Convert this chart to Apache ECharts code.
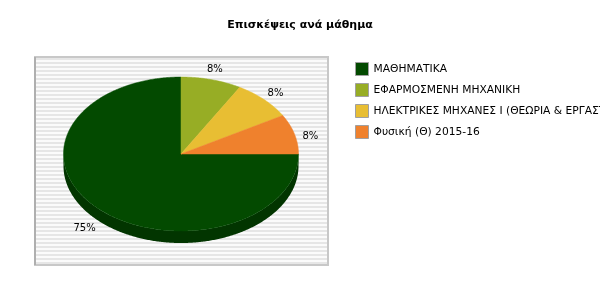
<!DOCTYPE html>
<html><head><meta charset="utf-8">
<script src="https://cdn.jsdelivr.net/npm/echarts@6/dist/echarts.min.js"></script>
<style>html,body{margin:0;padding:0;background:#fff}#c{width:600px;height:300px}</style>
</head><body><div id="c"></div>
<script>
const categories = ['ΜΑΘΗΜΑΤΙΚΑ', 'ΕΦΑΡΜΟΣΜΕΝΗ ΜΗΧΑΝΙΚΗ', 'ΗΛΕΚΤΡΙΚΕΣ ΜΗΧΑΝΕΣ Ι (ΘΕΩΡΙΑ & ΕΡΓΑΣΤΗΡΙΟ)', 'Φυσική (Θ) 2015-16'];
const visits = [9, 1, 1, 1];
const colors = ['#034A00', '#97AD25', '#E8BE33', '#EF812D'];
const sideColors = ['#023500', '#6C7C1A', '#A88A25', '#AD5E21'];
const titleText = 'Επισκέψεις ανά μάθημα';

const total = visits.reduce((a, b) => a + b, 0);
const PIE = {cx: 181, cy: 154, rx: 117.5, ry: 77, depth: 12};
const FONT = 'DejaVu Sans';

function makeRender(i) {
  return function (params, api) {
    const v = api.value(0);
    let start = 0;
    for (let k = 0; k < i; k++) start += visits[k];
    const a0 = start / total * Math.PI * 2;
    const a1 = (start + v) / total * Math.PI * 2;
    const {cx, cy, rx, ry, depth} = PIE;
    const pt = (t, dy) => [cx + rx * Math.cos(t), cy + ry * Math.sin(t) + (dy || 0)];
    const arc = (s, e, dy) => {
      const n = Math.max(2, Math.ceil(Math.abs(e - s) / 0.01));
      const out = [];
      for (let j = 0; j <= n; j++) out.push(pt(s + (e - s) * j / n, dy));
      return out;
    };
    const children = [];
    const topPts = [[cx, cy]].concat(arc(a0, a1));
    children.push({type: 'polygon', shape: {points: topPts}, style: {fill: colors[i], stroke: colors[i], lineWidth: 0.5}, z2: 10});
    const s0 = Math.max(a0, 0), s1 = Math.min(a1, Math.PI);
    if (s1 > s0) {
      const sidePts = arc(s0, s1).concat(arc(s1, s0, depth));
      children.push({type: 'polygon', shape: {points: sidePts}, style: {fill: sideColors[i]}, z2: 1});
    }
    const tm = (a0 + a1) / 2;
    children.push({
      type: 'text', z2: 20,
      style: {
        text: Math.round(v / total * 100) + '%',
        x: cx + (rx + 17.5) * Math.cos(tm) - 1,
        y: cy + (ry + 18) * Math.sin(tm) + 7,
        align: 'center', verticalAlign: 'middle',
        font: '10px "' + FONT + '"', fill: '#000'
      }
    });
    return {type: 'group', children};
  };
}

// background plot box with horizontal stripes
const bg = [];
const box = {x: 35, y: 57, w: 293, h: 208};
bg.push({type: 'rect', shape: {x: box.x, y: box.y, width: box.w, height: box.h}, style: {fill: '#FBFBFB'}, z: -10, silent: true});
for (let y = box.y + 1; y < box.y + box.h - 1; y += 4) {
  bg.push({type: 'rect', shape: {x: box.x + 1, y: y, width: box.w - 2, height: 2}, style: {fill: '#E6E6E6'}, z: -9, silent: true});
}
bg.push({type: 'rect', shape: {x: box.x, y: box.y, width: box.w, height: box.h}, style: {fill: 'none', stroke: '#C8C8C8', lineWidth: 2}, z: -8, silent: true});
bg.push({type: 'line', shape: {x1: box.x, y1: box.y, x2: box.x, y2: box.y + box.h}, style: {stroke: '#AFAFAF', lineWidth: 2}, z: -7, silent: true});

const chart = echarts.init(document.getElementById('c'), null, {renderer: 'canvas'});
chart.setOption({
  animation: false,
  backgroundColor: '#fff',
  title: {
    text: titleText, left: 'center', top: 15,
    textStyle: {fontSize: 11, fontWeight: 'bold', fontFamily: FONT, color: '#000'}
  },
  legend: {
    orient: 'vertical', left: 355, top: 62, padding: 0,
    itemWidth: 13, itemHeight: 13, itemGap: 7, icon: 'rect', selectedMode: false,
    itemStyle: {borderColor: '#A0A0A0', borderWidth: 1},
    textStyle: {fontSize: 10.7, fontFamily: FONT, color: '#000'},
    data: categories
  },
  graphic: bg,
  series: categories.map((name, i) => ({
    type: 'custom', name: name, coordinateSystem: 'none',
    itemStyle: {color: colors[i]},
    renderItem: makeRender(i),
    data: [[visits[i]]]
  }))
});
</script>
</body></html>
